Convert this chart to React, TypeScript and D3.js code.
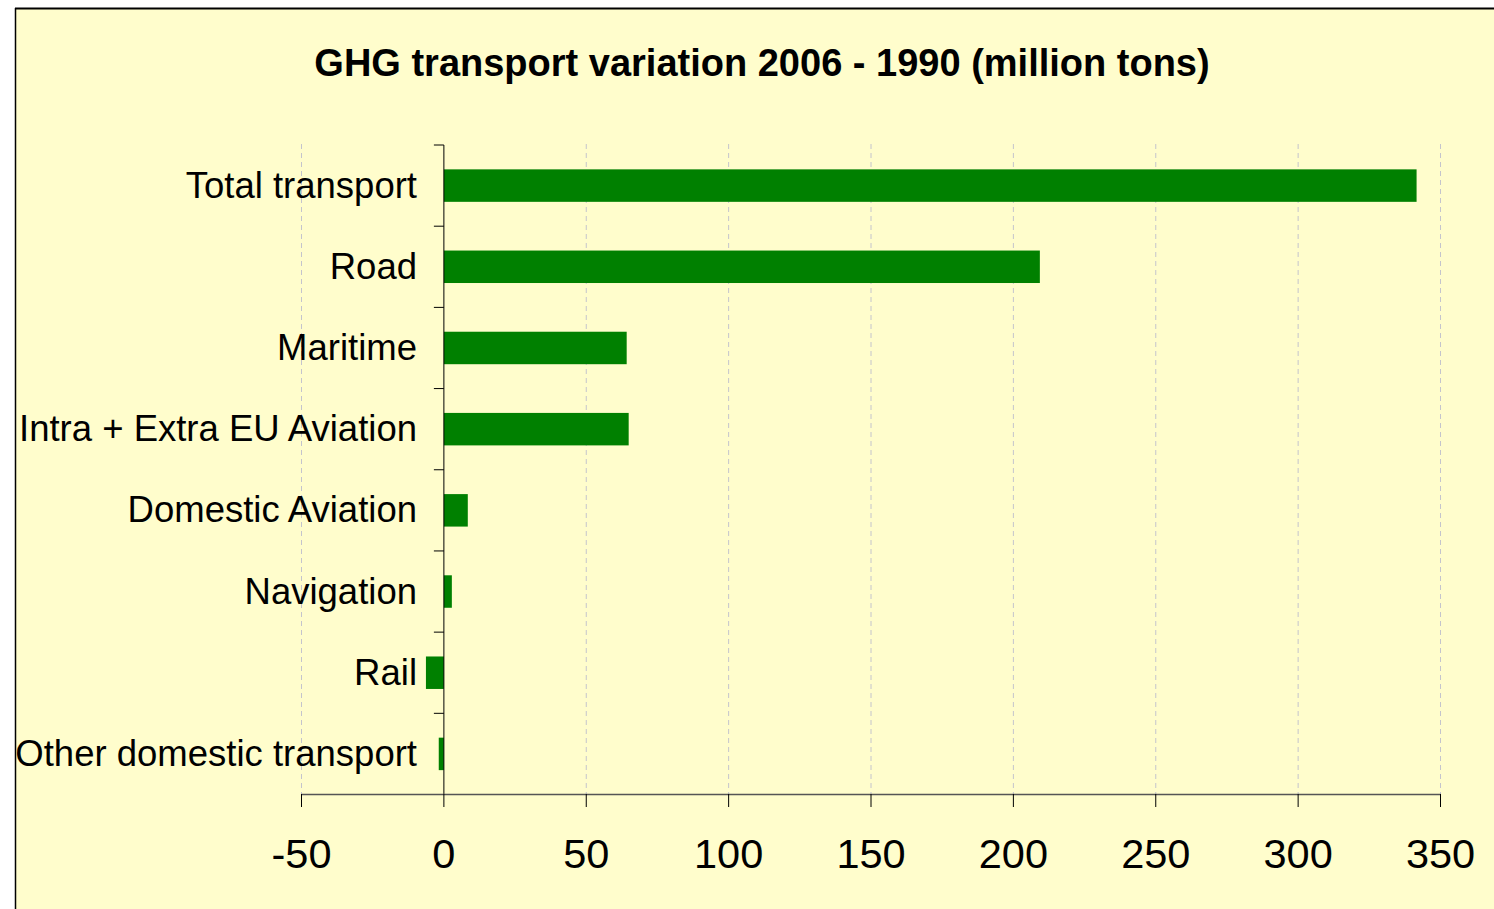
import React from "react";
import * as d3 from "d3";

const categories = [
  "Total transport",
  "Road",
  "Maritime",
  "Intra + Extra EU Aviation",
  "Domestic Aviation",
  "Navigation",
  "Rail",
  "Other domestic transport",
];
const values = [341.6, 209.3, 64.2, 64.9, 8.4, 2.8, -6.3, -1.8];
const xTicks = [-50, 0, 50, 100, 150, 200, 250, 300, 350];
const title = "GHG transport variation 2006 - 1990 (million tons)";

export default function App() {
  const W = 1494, H = 909;
  const x = d3.scaleLinear().domain([-50, 350]).range([301.5, 1440.5]);
  const y = d3.scaleBand<string>().domain(categories).range([145, 794.5]).paddingInner(0.6).paddingOuter(0.3);
  const yb = d3.scaleBand<string>().domain(categories).range([145, 794.5]);
  const x0 = x(0);
  const font = "'Liberation Sans', Arial, sans-serif";
  return (
    <svg width={W} height={H} style={{ position: "absolute", left: 0, top: 0, display: "block" }}>
      <rect x={0} y={0} width={W} height={H} fill="#ffffff" />
      <rect x={15} y={8} width={W - 15} height={H - 8} fill="#FFFDCC" />
      <line x1={15} y1={8.5} x2={W} y2={8.5} stroke="#000" strokeWidth={2} />
      <line x1={15.5} y1={8} x2={15.5} y2={H} stroke="#000" strokeWidth={1.5} />
      <text x={762} y={76} textAnchor="middle" fontFamily={font} fontWeight="bold" fontSize={38}>{title}</text>
      {xTicks.filter((t) => t !== 0).map((t) => (
        <line key={"g" + t} x1={x(t)} x2={x(t)} y1={144} y2={794} stroke="#C4C4CC" strokeWidth={1} strokeDasharray="5,4" />
      ))}
      {categories.map((c, i) => {
        const v = values[i];
        return (
          <rect key={c} x={Math.min(x(v), x0)} width={Math.abs(x(v) - x0)} y={y(c)} height={y.bandwidth()} fill="#008000" />
        );
      })}
      <line x1={x0} x2={x0} y1={145} y2={794.5} stroke="#000" strokeWidth={1} />
      {categories.map((c) => (
        <line key={"t" + c} x1={x0 - 10} x2={x0} y1={yb(c)} y2={yb(c)} stroke="#000" strokeWidth={1} />
      ))}
      <line x1={x0 - 10} x2={x0} y1={794.5} y2={794.5} stroke="#000" strokeWidth={1} />
      <line x1={x(-50)} x2={x(350)} y1={794.5} y2={794.5} stroke="#555" strokeWidth={1.5} />
      {xTicks.map((t) => (
        <g key={"x" + t}>
          <line x1={x(t)} x2={x(t)} y1={794} y2={807} stroke="#000" strokeWidth={1} />
          <text x={x(t)} y={868} textAnchor="middle" fontFamily={font} fontSize={41.5}>{t}</text>
        </g>
      ))}
      {categories.map((c) => (
        <text key={"l" + c} x={417} y={(y(c) as number) + y.bandwidth() / 2 + 12} textAnchor="end" fontFamily={font} fontSize={36.5}>{c}</text>
      ))}
    </svg>
  );
}
